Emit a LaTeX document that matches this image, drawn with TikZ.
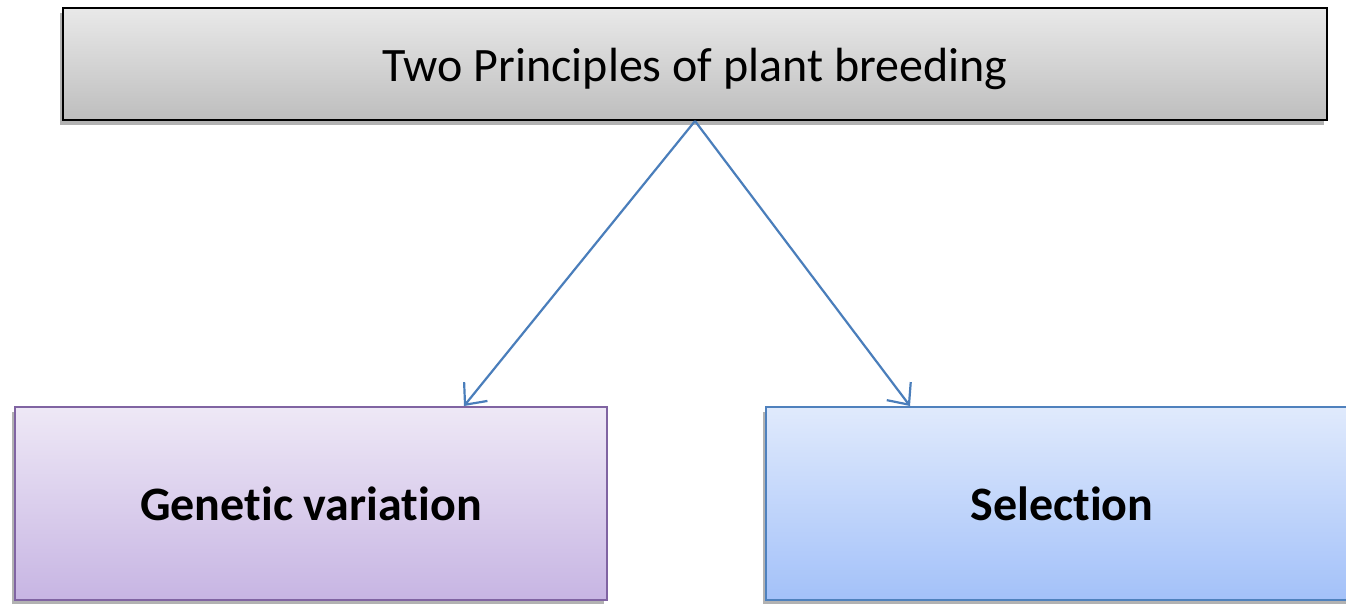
\documentclass[tikz,border=0pt]{standalone}
\usepackage{fontspec}
\setmainfont[Ligatures=NoCommon]{Carlito}
\usetikzlibrary{arrows.meta,shadows}
\definecolor{topT}{HTML}{E9E9E9}
\definecolor{topB}{HTML}{BEBEBE}
\definecolor{purT}{HTML}{EEE8F6}
\definecolor{purB}{HTML}{C7B5E3}
\definecolor{purD}{HTML}{8064A2}
\definecolor{bluT}{HTML}{E0EAFC}
\definecolor{bluB}{HTML}{A3C1F9}
\definecolor{bluD}{HTML}{4F81BD}
\definecolor{arr}{HTML}{4A7EBB}
\tikzset{
  x=1pt,y=1pt,
  shad/.style={drop shadow={shadow xshift=-3pt,shadow yshift=-5pt,fill=black,opacity=0.3}},
  topbox/.style={draw=black,line width=2pt,top color=topT,bottom color=topB,shad,
    minimum width=1264pt,minimum height=112pt,inner sep=0pt,
    font=\fontsize{48}{54}\selectfont},
  lowbox/.style={line width=2pt,shad,minimum width=592pt,minimum height=193pt,inner sep=0pt,
    font=\fontsize{48}{54}\selectfont\bfseries},
  conn/.style={draw=arr,line width=2.2pt,-{Straight Barb[length=17pt,width=30pt,line width=2.2pt]}}
}
\begin{document}
\begin{tikzpicture}
\clip (0,0) rectangle (1346,-603);
\fill[white] (0,0) rectangle (1346,-603);
\node[topbox] (top) at (695,-64) {\raisebox{-17pt}[0pt][0pt]{Two Principles of plant breeding}};
\node[lowbox,draw=purD,top color=purT,bottom color=purB] (gv) at (311,-503.5) {\raisebox{-17pt}[0pt][0pt]{Genetic variation}};
\node[lowbox,draw=bluD,top color=bluT,bottom color=bluB] (sel) at (1062,-503.5) {\raisebox{-17pt}[0pt][0pt]{Selection}};
\draw[conn] (top.south) -- ([xshift=153pt]gv.north);
\draw[conn] (top.south) -- ([xshift=-152pt]sel.north);
\end{tikzpicture}
\end{document}
